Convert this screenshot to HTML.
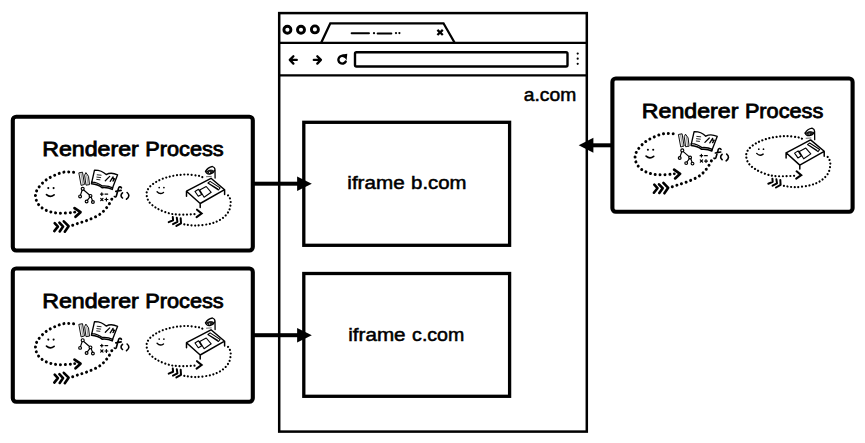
<!DOCTYPE html>
<html>
<head>
<meta charset="utf-8">
<title>Site isolation diagram</title>
<style>
html,body{margin:0;padding:0;background:#fff;}
body{width:865px;height:443px;overflow:hidden;font-family:"Liberation Sans",sans-serif;}
svg{display:block;}
text{font-family:"Liberation Sans",sans-serif;fill:#000;}
.t1{font-size:20px;stroke:#000;stroke-width:0.8px;}
.t2{font-size:17.6px;stroke:#000;stroke-width:0.5px;}
</style>
</head>
<body>
<svg width="865" height="443" viewBox="0 0 865 443">
<defs>
<g id="doodle" fill="none" stroke="#000" stroke-linecap="round" stroke-linejoin="round">
  <!-- left loop -->
  <path d="M62.9 57.4 C61.3 57.4 56.6 56.7 53.3 57.3 C50.0 57.9 46.2 59.4 43.0 60.9 C39.8 62.4 36.9 63.9 34.3 66.0 C31.7 68.1 29.0 71.1 27.4 73.5 C25.8 75.9 25.0 77.9 24.8 80.2 C24.6 82.5 25.3 85.2 26.4 87.3 C27.4 89.4 29.0 91.3 31.1 92.9 C33.2 94.5 36.0 95.9 39.0 96.8 C42.0 97.7 45.1 98.3 49.3 98.4 C53.5 98.5 61.8 97.7 64.3 97.6" stroke-width="3.0" stroke-dasharray="0.01 4.85"/>
  <path d="M62.0 110.4 C63.0 110.1 65.7 109.1 67.8 108.4 C69.9 107.7 72.2 107.1 74.5 106.3 C76.8 105.5 79.0 104.6 81.3 103.6 C83.6 102.6 86.1 101.5 88.1 100.2 C90.1 98.9 91.7 97.5 93.2 96.0 C94.8 94.5 96.1 92.7 97.4 90.9 C98.7 89.1 100.1 86.4 100.8 85.0 C101.5 83.6 101.6 83.0 101.8 82.6" stroke-width="3.0" stroke-dasharray="0.01 4.85"/>
  <path d="M63.8 93.3 L69.8 97.4 L64.8 102" stroke-width="2.7" stroke-linecap="round" stroke-linejoin="round"/>
  <circle cx="64" cy="97.4" r="1.4" fill="#000" stroke="none"/>
  <path d="M44 108.3 L47.2 111.8 L43.6 116.3 M48.7 107.9 L52.4 111.8 L49 116.6 M53.1 106.5 L57.9 111.4 L54.1 116.9" stroke-width="2.6" stroke-linecap="round" stroke-linejoin="round"/>
  <!-- smile 1 -->
  <path d="M35.8 79.8 Q39.5 83.2 43.4 80" stroke-width="1.7"/>
  <circle cx="37.6" cy="73.3" r="1.05" fill="#000" stroke="none"/>
  <circle cx="42.9" cy="73.3" r="1.05" fill="#000" stroke="none"/>
  <!-- pencils -->
  <path d="M68.5 58 L71.8 57.4 L73.8 69.6 L70.8 70.5 Z" stroke-width="0.95" fill="#f2f2f2"/>
  <path d="M70.2 58.2 L72.3 69.8" stroke-width="0.55" stroke="#555"/>
  <path d="M74.1 60 L75.2 57.8 L77.8 61.5 L78.8 69.8 L75.7 70.3 Z" stroke-width="0.95" fill="#f2f2f2"/>
  <path d="M76 60.4 L77.3 69.8" stroke-width="0.55" stroke="#555"/>
  <!-- book -->
  <path d="M81.1 67.3 L83.8 55.3 C88 55.2 92.5 56.8 95.5 59.8 C98.5 58 103 58.2 106.9 60 L101.9 73 C98.5 71.3 95 70.9 91.6 71.2 C88.5 68.8 85 67.5 81.1 67.3 Z" stroke-width="1.35"/>
  <path d="M81.1 67.3 L80.8 69 C85 69.4 88.7 70.7 91.4 72.9 C95 72.6 98.5 73.1 101.6 74.6 L101.9 73" stroke-width="1.5"/>
  <path d="M86.5 60 L90.4 60.4 M86.2 62.3 L90 62.8 M86 64.6 L89.2 65" stroke-width="0.85"/>
  <path d="M94.6 66 L99 61.6 M99.5 66.5 L102.3 62 L103 65.8 M102.2 66.3 L104 63.8" stroke-width="1.25"/>
  <!-- tree -->
  <path d="M71.4 75.4 L69.8 80.3 M73 75.2 L78.8 80.2 M79.1 82.3 L76.6 85.6 M80.5 82.3 L81.8 86" stroke-width="1.15"/>
  <circle cx="72" cy="74" r="1.5" stroke-width="1.15"/>
  <circle cx="69.4" cy="81.6" r="1.4" stroke-width="1.15"/>
  <circle cx="79.8" cy="81.1" r="1.4" stroke-width="1.15"/>
  <circle cx="75.9" cy="86.7" r="1.4" stroke-width="1.15"/>
  <circle cx="82.2" cy="87.2" r="1.4" stroke-width="1.15"/>
  <!-- math -->
  <path d="M89.8 79.3 L92.4 79.3 M91.1 78 L91.1 80.6 M94.3 79.3 L97 79.3 M90 83.5 L92.3 85.8 M92.3 83.5 L90 85.8 M94.3 84.7 L97.2 84.7 M95.7 83.3 L95.7 86.1" stroke-width="1.2"/>
  <!-- f() -->
  <path d="M110.7 73 C109.8 71.6 108.2 71.8 107.7 73.8 L105.7 81 C105.3 82.4 104.3 82.4 103.7 81.7 M105.1 76.6 L110.4 75.6" stroke-width="1.65"/>
  <path d="M111.8 78 Q108.9 80.6 111.8 83.2 M116.4 77.7 Q120.2 80.8 115.8 84.4" stroke-width="1.6"/>

  <!-- right loop -->
  <path d="M191.6 62.3 C190.9 62.1 190.0 61.3 187.5 60.9 C185.0 60.5 180.3 59.8 176.7 59.7 C173.0 59.6 169.2 60.0 165.6 60.5 C162.0 61.0 158.6 61.8 155.3 62.8 C152.0 63.8 148.7 65.2 145.9 66.8 C143.2 68.4 140.5 70.3 138.8 72.3 C137.1 74.3 136.0 76.2 135.9 78.6 C135.8 81.0 136.5 84.1 138.0 86.5 C139.5 88.9 142.2 91.0 145.1 92.8 C148.0 94.6 151.6 96.4 155.3 97.6 C159.0 98.8 162.0 99.5 167.2 99.8 C172.4 100.1 183.3 99.4 186.5 99.3" stroke-width="2.2" stroke-dasharray="0.01 3.65"/>
  <path d="M173.6 109.5 C175.5 109.7 180.5 110.9 185.0 110.8 C189.5 110.7 196.2 109.8 200.5 108.7 C204.8 107.6 208.1 106.0 211.0 104.0 C213.9 102.0 216.5 99.2 218.0 96.5 C219.5 93.8 219.9 89.9 220.0 87.5 C220.1 85.1 219.1 83.3 218.5 82.0 C217.9 80.7 216.8 80.2 216.5 79.9" stroke-width="2.2" stroke-dasharray="0.01 3.65"/>
  <path d="M186.3 94.9 L190.9 98.7 L185.9 102.3" stroke-width="2.1" stroke-linecap="round" stroke-linejoin="miter"/>
  <path d="M162.1 102.3 L162.4 105.5 L158 107.3 M166.1 102.9 L166.7 107 L162.3 109.3 M170 103.5 L170.3 108.5 L165.7 111.1" stroke-width="2.0" stroke-linecap="round" stroke-linejoin="round"/>
  <!-- smile 2 -->
  <path d="M146.4 77 Q149.3 80.2 152.8 77.7" stroke-width="1.4"/>
  <circle cx="148.5" cy="72.8" r="0.85" fill="#000" stroke="none"/>
  <circle cx="153.2" cy="72.8" r="0.85" fill="#000" stroke="none"/>
  <!-- desk -->
  <path d="M175.8 76.4 L200.3 63.5 L213.9 74.9 L189.5 88.7 Z M175.8 76.4 L175.8 81.5 M189.5 88.7 L189.5 92.6 M213.9 74.9 L213.9 79.8" stroke-width="1.5"/>
  <path d="M184.3 76.7 L187.8 74.5 L190.9 79.6 L187.6 81.5 Z M189 75.2 L195.5 71.7 L200.5 77.5 L193.4 82.4 Z" stroke-width="1.1"/>
  <path d="M197.2 68.2 L199.4 66.6 L209.4 73.1 L207.7 75.2 Z M199.3 69.3 L206.8 74" stroke-width="1.1"/>
  <!-- lamp -->
  <path d="M194.8 56.6 C196 54.5 198.5 52.3 201.7 51.7 C203.5 52.4 204.3 53.6 204.3 54.9 L204.4 63.3" stroke-width="1.3"/>
  <path d="M194.8 56.6 C195.4 58.5 197.4 59.4 199.3 59.2 C201.6 58.9 203.2 57.8 203.9 55.6" stroke-width="1.3"/>
  <path d="M196.2 56.6 C198 54.9 201 54.8 202.9 56 C202 57.9 200.2 58.7 198.6 58.5 C197.4 58.3 196.5 57.6 196.2 56.6 Z" stroke-width="0.8" fill="#222"/>
  <circle cx="198.9" cy="57.6" r="0.55" fill="#fff" stroke="none"/>
  <path d="M195.8 61.9 L200.6 61.6" stroke-width="0.8" stroke="#444"/>
</g>
</defs>

<!-- browser window -->
<rect x="279.2" y="13.1" width="307.6" height="418.5" fill="#fff" stroke="#000" stroke-width="2.5"/>
<line x1="279" y1="42.8" x2="587" y2="42.8" stroke="#000" stroke-width="2.3"/>
<line x1="279" y1="75.4" x2="587" y2="75.4" stroke="#000" stroke-width="2.3"/>
<!-- window buttons -->
<g fill="none" stroke="#000" stroke-width="2.9">
<ellipse cx="287.4" cy="29.7" rx="3.5" ry="3.5"/>
<ellipse cx="301" cy="29.7" rx="3.5" ry="3.5"/>
<ellipse cx="314.9" cy="29.4" rx="3.5" ry="3.5"/>
</g>
<!-- tab -->
<path d="M321.3 42.5 L330.3 23.3 L443.5 23.3 L454.5 42.5" fill="none" stroke="#000" stroke-width="2.3" stroke-linejoin="miter"/>
<path d="M351.6 33.3 L369 33.3 M377.6 33.5 L391.4 33.5" stroke="#000" stroke-width="1.9" stroke-linecap="round" fill="none"/>
<circle cx="374" cy="33.2" r="1.1" fill="#000"/><circle cx="396" cy="33.1" r="1.1" fill="#000"/><circle cx="399.4" cy="33.1" r="1.1" fill="#000"/>
<path d="M437.4 29.9 L442.8 35 M442.8 29.9 L437.4 35" stroke="#000" stroke-width="2.3" fill="none"/>
<!-- nav icons -->
<g fill="none" stroke="#000" stroke-width="2.3" stroke-linecap="round" stroke-linejoin="round">
<path d="M296.8 59.9 L290.4 59.9 M293.4 56.2 L289.8 59.9 L293.4 63.6"/>
<path d="M313.8 59.9 L320.2 59.9 M317.3 56.2 L320.9 59.9 L317.3 63.6"/>
<path d="M344.6 56.6 A3.9 3.9 0 1 0 345.7 61.6" stroke-width="2.4"/>
</g>
<path d="M342.3 54.6 L347.3 53.8 L346.6 60.2 Z" fill="#000"/>
<!-- url bar -->
<rect x="355" y="52.2" width="212.5" height="14.3" rx="1.5" fill="#fff" stroke="#000" stroke-width="2.4"/>
<circle cx="577.7" cy="53.6" r="1.1" fill="#000"/>
<circle cx="577.7" cy="58.7" r="1.1" fill="#000"/>
<circle cx="577.7" cy="63.8" r="1.1" fill="#000"/>

<!-- iframes -->
<rect x="303.8" y="122.3" width="205.8" height="123" fill="#fff" stroke="#000" stroke-width="3.3"/>
<rect x="303.8" y="273.5" width="205.8" height="122.8" fill="#fff" stroke="#000" stroke-width="3.3"/>

<!-- renderer boxes -->
<rect x="12.8" y="116.8" width="240" height="133.7" rx="3.4" fill="#fff" stroke="#000" stroke-width="4.1"/>
<rect x="12.8" y="268.5" width="240" height="133.2" rx="3.4" fill="#fff" stroke="#000" stroke-width="4.1"/>
<rect x="612.4" y="78.5" width="240.2" height="133.2" rx="3.4" fill="#fff" stroke="#000" stroke-width="4.1"/>

<!-- arrows -->
<rect x="254" y="181.7" width="46" height="4" fill="#000"/>
<path d="M297.1 176.5 L311.8 183.7 L297.1 190.9 Z" fill="#000"/>
<rect x="254" y="333.2" width="46" height="4" fill="#000"/>
<path d="M297.1 327.9 L311.8 335.2 L297.1 342.5 Z" fill="#000"/>
<rect x="592" y="143.3" width="19" height="4" fill="#000"/>
<path d="M593.4 137.8 L578.7 145.3 L593.4 152.8 Z" fill="#000"/>

<!-- doodles -->
<use href="#doodle" x="10.7" y="114.8"/>
<use href="#doodle" x="10.7" y="266.3"/>
<use href="#doodle" x="610.3" y="76.4"/>

<!-- text -->
<text class="t1" x="42.2" y="156.2" textLength="96.6" lengthAdjust="spacingAndGlyphs">Renderer</text><text class="t1" x="145.3" y="156.2" textLength="78.4" lengthAdjust="spacingAndGlyphs">Process</text>
<text class="t1" x="42.2" y="307.8" textLength="96.6" lengthAdjust="spacingAndGlyphs">Renderer</text><text class="t1" x="145.3" y="307.8" textLength="78.4" lengthAdjust="spacingAndGlyphs">Process</text>
<text class="t1" x="641.8" y="117.8" textLength="96.6" lengthAdjust="spacingAndGlyphs">Renderer</text><text class="t1" x="744.9" y="117.8" textLength="78.4" lengthAdjust="spacingAndGlyphs">Process</text>
<text class="t2" x="347.3" y="189.2" textLength="57.4" lengthAdjust="spacingAndGlyphs">iframe</text>
<text class="t2" x="411.1" y="189.2" textLength="55.4" lengthAdjust="spacingAndGlyphs">b.com</text>
<text class="t2" x="348.2" y="340.7" textLength="57.4" lengthAdjust="spacingAndGlyphs">iframe</text>
<text class="t2" x="412.1" y="340.7" textLength="52.2" lengthAdjust="spacingAndGlyphs">c.com</text>
<text class="t2" x="523.8" y="100.8" textLength="52.4" lengthAdjust="spacingAndGlyphs">a.com</text>
</svg>
</body>
</html>
